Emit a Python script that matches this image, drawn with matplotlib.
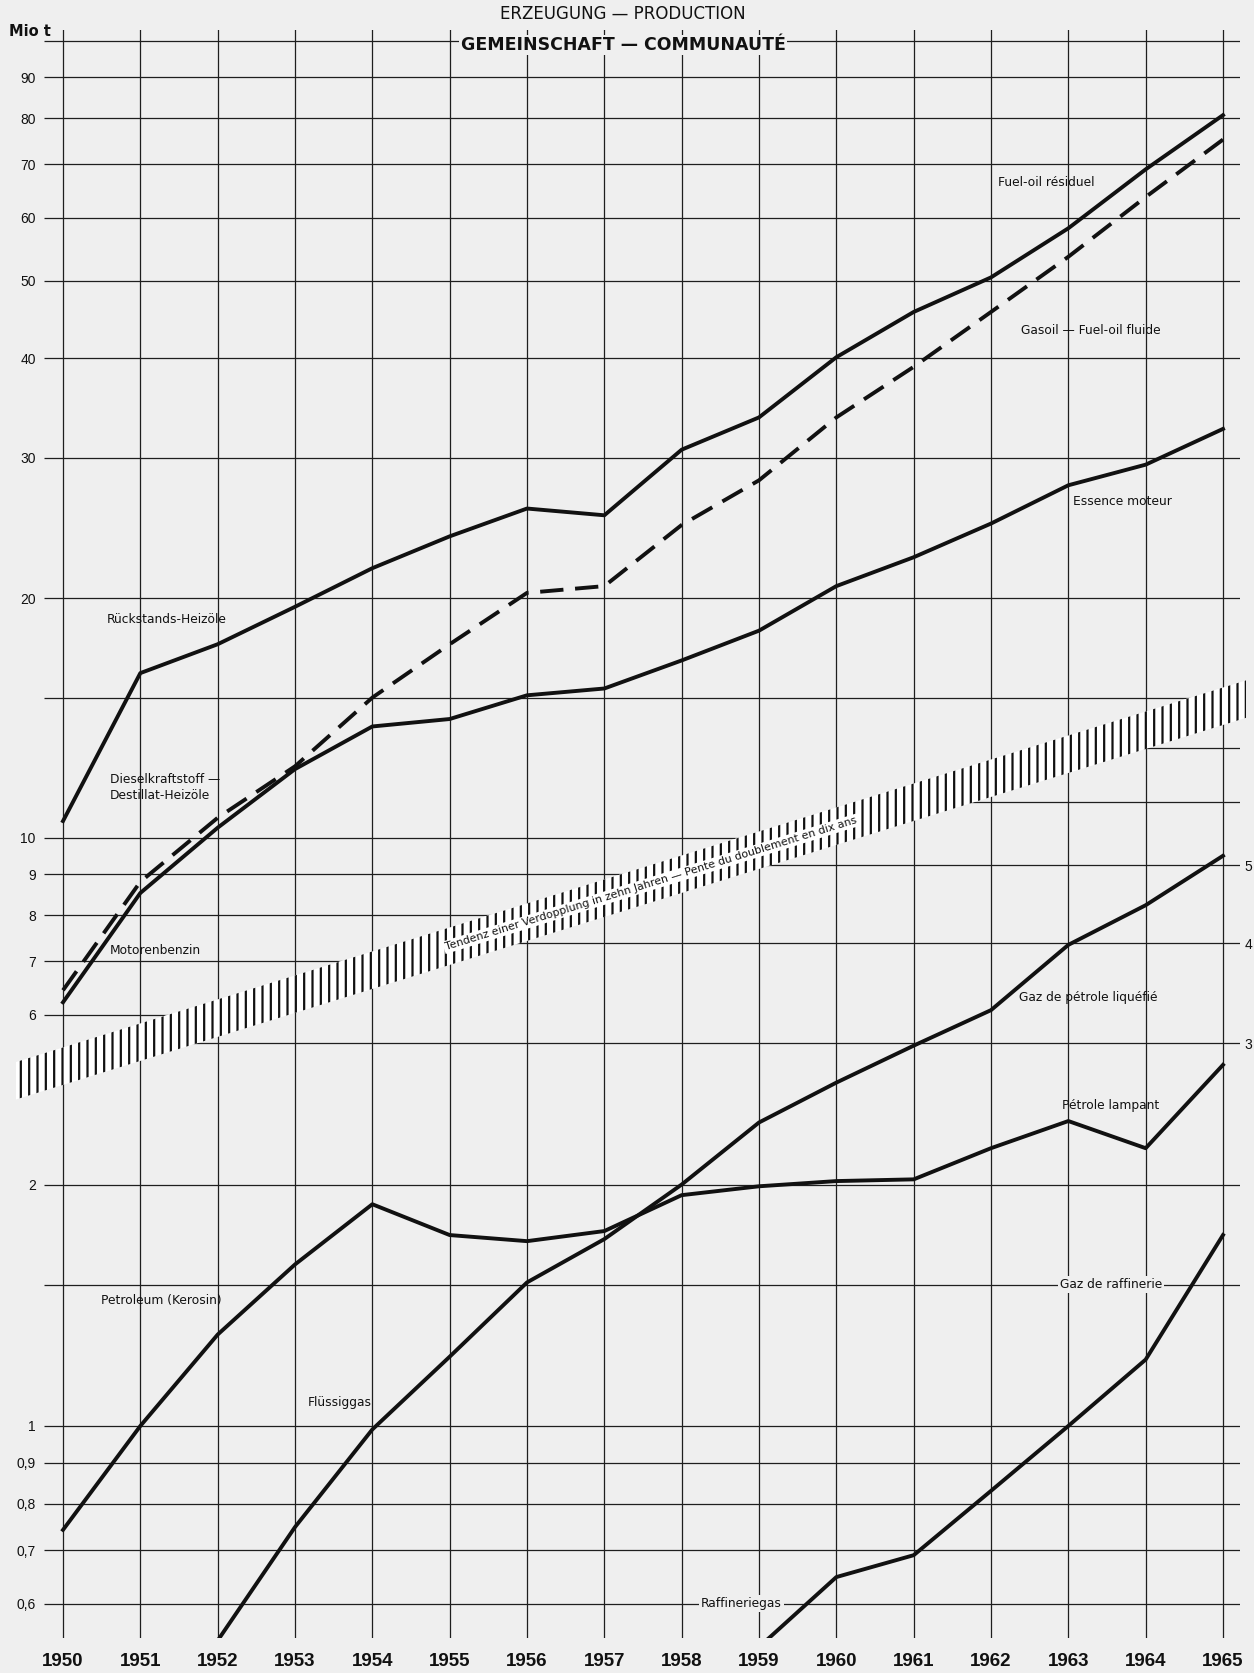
import matplotlib
matplotlib.use("Agg")
import matplotlib.pyplot as plt
from matplotlib.patches import Polygon
from matplotlib.ticker import NullLocator
import numpy as np

# ---------------- data ----------------
years = list(range(1950, 1966))

# upper scale (left axis, Mio t)
fuel_oil_residuel = [10.5, 16.1, 17.5, 19.5, 21.8, 23.9, 25.9, 25.4, 30.7, 33.7,
                     40.1, 45.7, 50.5, 58.2, 69.0, 80.7]
gasoil_fuel_oil_fluide = [6.44, 8.81, 10.6, 12.3, 15.0, 17.5, 20.3, 20.7, 24.7, 28.1,
                          33.7, 39.0, 45.7, 53.6, 63.7, 75.2]
essence_moteur = [6.22, 8.53, 10.3, 12.2, 13.8, 14.1, 15.1, 15.4, 16.7, 18.2,
                  20.7, 22.5, 24.8, 27.7, 29.4, 32.6]

# lower scale (offset log scale)
gpl_years = years[2:]
gaz_petrole_liquefie = [0.54, 0.748, 0.99, 1.22, 1.51, 1.71, 2.0, 2.39, 2.68, 2.98,
                        3.30, 3.98, 4.46, 5.14]
petrole_lampant = [0.742, 1.0, 1.30, 1.59, 1.89, 1.73, 1.70, 1.75, 1.94, 1.99,
                   2.02, 2.03, 2.22, 2.40, 2.22, 2.82]
raff_years = years[9:]
gaz_raffinerie = [0.53, 0.648, 0.69, 0.83, 1.0, 1.21, 1.73]

upper_ticks = [6, 7, 8, 9, 10, 20, 30, 40, 50, 60, 70, 80, 90]
upper_tick_labels = ["6", "7", "8", "9", "10", "20", "30", "40", "50", "60", "70", "80", "90"]
upper_grid = [6, 7, 8, 9, 10, 15, 20, 30, 40, 50, 60, 70, 80, 90, 100]
lower_left_ticks = [0.6, 0.7, 0.8, 0.9, 1, 2]
lower_left_labels = ["0,6", "0,7", "0,8", "0,9", "1", "2"]
lower_right_ticks = [3, 4, 5]
lower_right_labels = ["3", "4", "5"]
lower_grid = [0.6, 0.7, 0.8, 0.9, 1, 1.5, 2, 3, 4, 5, 6, 7, 8, 9, 10]

# doubling-in-ten-years trend band (upper scale values at 1950)
trend_top_1950 = 5.46
trend_bottom_1950 = 4.90
trend_doubling_years = 10

# ---------------- style ----------------
BG = "#efefef"
INK = "#111111"
GRID = "#1e1e1e"
W, H = 1254, 1673
plt.rcParams["hatch.linewidth"] = 1.6
plt.rcParams["font.family"] = ["DejaVu Sans"]

fig = plt.figure(figsize=(W / 100, H / 100), dpi=100, facecolor=BG)

left_px, right_px, top_px, bottom_px = 44, 1240, 30, 1638
ax = fig.add_axes([left_px / W, 1 - bottom_px / H, (right_px - left_px) / W,
                   (bottom_px - top_px) / H])
ax.set_facecolor(BG)
ax.set_yscale("log")
ax.set_ylim(0.9914, 103.2)
x_lo = 1950 - (63 - left_px) / 77.33
x_hi = 1965 + (right_px - 1223) / 77.33
ax.set_xlim(x_lo, x_hi)

ax_lo = ax.twinx()
ax_lo.set_yscale("log")
ax_lo.set_ylim(0.544, 55.04)
ax_lo.set_xlim(x_lo, x_hi)

for a in (ax, ax_lo):
    for s in a.spines.values():
        s.set_visible(False)

# ticks
ax.set_xticks(years)
ax.set_xticklabels([str(y) for y in years], fontweight="bold",
                   family=["Liberation Sans", "DejaVu Sans"], fontsize=13.5)
ax.tick_params(axis="x", length=0, pad=11, colors=INK)
ax.grid(axis="x", color=GRID, lw=0.9)
ax.set_axisbelow(True)

ax.set_yticks(upper_ticks)
ax.set_yticklabels(upper_tick_labels)
ax.yaxis.set_minor_locator(NullLocator())
ax.tick_params(axis="y", which="both", length=0, pad=6, labelsize=10, colors=INK,
               left=False, labelleft=True, right=False, labelright=False)
for t in ax.get_yticklabels():
    t.set_family(["Liberation Sans", "DejaVu Sans"])

ax_lo.yaxis.set_minor_locator(NullLocator())
ax_lo.set_yticks(lower_left_ticks)
ax_lo.set_yticklabels(lower_left_labels)
ax_lo.set_yticks(lower_right_ticks, minor=True)
ax_lo.set_yticklabels(lower_right_labels, minor=True)
ax_lo.tick_params(axis="y", which="major", length=0, pad=6, labelsize=10, colors=INK,
                  left=False, labelleft=True, right=False, labelright=False)
ax_lo.tick_params(axis="y", which="minor", length=0, pad=3, labelsize=10, colors=INK,
                  left=False, labelleft=False, right=False, labelright=True)
for t in ax_lo.get_yticklabels() + ax_lo.get_yticklabels(minor=True):
    t.set_family(["Liberation Sans", "DejaVu Sans"])

# band edges
def band(v0, x):
    x = np.asarray(x, dtype=float)
    return v0 * 2 ** ((x - 1950) / trend_doubling_years)

bx = np.array([1949.0, 1966.0])
clip_up = Polygon([(bx[0], band(trend_top_1950, bx[0])), (bx[1], band(trend_top_1950, bx[1])),
                   (bx[1], 1e4), (bx[0], 1e4)], closed=True, transform=ax.transData)
clip_lo = Polygon([(bx[0], band(trend_bottom_1950, bx[0])), (bx[1], band(trend_bottom_1950, bx[1])),
                   (bx[1], 1e-4), (bx[0], 1e-4)], closed=True, transform=ax.transData)

hl_up = ax.hlines(upper_grid, x_lo, x_hi, colors=GRID, lw=0.9, zorder=1.5)
hl_up.set_clip_path(clip_up)
hl_lo = ax_lo.hlines(lower_grid, x_lo, x_hi, colors=GRID, lw=0.9, zorder=1.5)
hl_lo.set_clip_path(clip_lo)

# hatched trend band
band_x = np.array([1950 - (63 - 16) / 77.33, 1965 + (1246 - 1223) / 77.33])
ax.fill_between(band_x, band(trend_top_1950, band_x), band(trend_bottom_1950, band_x),
                facecolor="white", edgecolor=INK, hatch="||", linewidth=0,
                zorder=3, clip_on=False)
band_mid_x = 1957.6
band_mid_v = np.sqrt(band(trend_top_1950, band_mid_x) * band(trend_bottom_1950, band_mid_x))
ax.text(band_mid_x, band_mid_v,
        "Tendenz einer Verdopplung in zehn Jahren — Pente du doublement en dix ans",
        rotation=17.2, rotation_mode="anchor", ha="center", va="center",
        fontsize=7.9, color=INK, zorder=4,
        bbox=dict(facecolor="white", edgecolor="none", pad=1.0))

# data lines
ax.plot(years, fuel_oil_residuel, color=INK, lw=2.8, zorder=4)
ax.plot(years, gasoil_fuel_oil_fluide, color=INK, lw=2.8, zorder=4, dashes=(6, 3))
ax.plot(years, essence_moteur, color=INK, lw=2.8, zorder=4)
ax_lo.plot(gpl_years, gaz_petrole_liquefie, color=INK, lw=2.8, zorder=4)
ax_lo.plot(years, petrole_lampant, color=INK, lw=2.8, zorder=4)
ax_lo.plot(raff_years, gaz_raffinerie, color=INK, lw=2.8, zorder=4)

# series labels
lab = dict(fontsize=8.8, color=INK, va="center", ha="left", zorder=6)
mask = dict(facecolor=BG, edgecolor="none", pad=1.5)
ax.text(1962.09, 66.4, "Fuel-oil résiduel", **lab)
ax.text(1962.39, 43.3, "Gasoil — Fuel-oil fluide", **lab)
ax.text(1963.06, 26.4, "Essence moteur", **lab)
ax.text(1950.57, 18.8, "Rückstands-Heizöle", **lab)
ax.text(1950.61, 11.58, "Dieselkraftstoff —\nDestillat-Heizöle", linespacing=1.3, **lab)
ax.text(1950.61, 7.22, "Motorenbenzin", **lab)
ax_lo.text(1962.36, 3.42, "Gaz de pétrole liquéfié", **lab)
ax_lo.text(1962.92, 2.51, "Pétrole lampant", **lab)
ax_lo.text(1962.89, 1.5, "Gaz de raffinerie", bbox=mask, **lab)
ax_lo.text(1950.49, 1.432, "Petroleum (Kerosin)", **lab)
ax_lo.text(1953.16, 1.071, "Flüssiggas", **lab)
ax_lo.text(1958.25, 0.6, "Raffineriegas", bbox=mask, **lab)

# titles
fig.text(623 / W, 1 - 14 / H, "ERZEUGUNG — PRODUCTION", ha="center", va="center",
         fontsize=12, color=INK)
fig.text(623 / W, 1 - 45 / H, "GEMEINSCHAFT — COMMUNAUTÉ", ha="center", va="center",
         fontsize=12.5, color=INK, fontweight="semibold",
         bbox=dict(facecolor=BG, edgecolor="none", pad=1))
fig.text(9 / W, 1 - 31 / H, "Mio t", ha="left", va="center", fontsize=10.5,
         fontweight="bold", color=INK)

fig.savefig("out.png", dpi=100, facecolor=BG)
